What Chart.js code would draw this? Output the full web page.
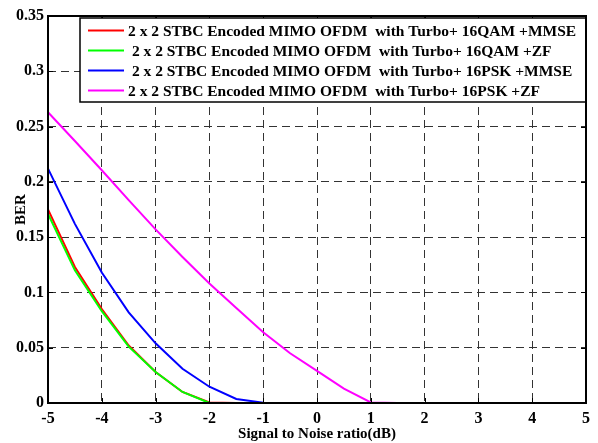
<!DOCTYPE html>
<html lang="en">
<head>
    <meta charset="UTF-8">
    <title>BER vs SNR</title>
    <script src="https://cdn.jsdelivr.net/npm/chart.js"></script>
    <style>
        html, body { margin: 0; padding: 0; background: #fff; }
        #wrap { width: 598px; height: 443px; }
    </style>
</head>
<body>
    <div id="wrap">
        <canvas id="berChart" width="598" height="443"></canvas>
    </div>

    <script>
        // SNR in dB (x axis)
        const snr = [-5, -4.5, -4, -3.5, -3, -2.5, -2, -1.5, -1, -0.5, 0, 0.5, 1, 1.5, 2, 2.5, 3, 3.5, 4, 4.5, 5];

        // BER values
        const qamMmse = [0.175, 0.123, 0.085, 0.052, 0.028, 0.010, 0.0005, 0, 0, 0, 0, 0, 0, 0, 0, 0, 0, 0, 0, 0, 0];
        const qamZf   = [0.171, 0.120, 0.083, 0.051, 0.028, 0.010, 0, 0, 0, 0, 0, 0, 0, 0, 0, 0, 0, 0, 0, 0, 0];
        const pskMmse = [0.212, 0.162, 0.118, 0.082, 0.054, 0.031, 0.0147, 0.0036, 0.0003, 0, 0, 0, 0, 0, 0, 0, 0, 0, 0, 0, 0];
        const pskZf   = [0.263, 0.237, 0.2105, 0.1835, 0.157, 0.132, 0.108, 0.086, 0.064, 0.045, 0.029, 0.013, 0.0005, 0, 0, 0, 0, 0, 0, 0, 0];

        const seriesLabels = [
            '2 x 2 STBC Encoded MIMO OFDM  with Turbo+ 16QAM +MMSE',
            ' 2 x 2 STBC Encoded MIMO OFDM  with Turbo+ 16QAM +ZF',
            ' 2 x 2 STBC Encoded MIMO OFDM  with Turbo+ 16PSK +MMSE',
            '2 x 2 STBC Encoded MIMO OFDM  with Turbo+ 16PSK +ZF'
        ];
        const seriesColors = ['#ff0000', '#00ff00', '#0000ff', '#ff00ff'];
        const seriesValues = [qamMmse, qamZf, pskMmse, pskZf];

        const xTicks = [-5, -4, -3, -2, -1, 0, 1, 2, 3, 4, 5];
        const yTicks = [0, 0.05, 0.1, 0.15, 0.2, 0.25, 0.3, 0.35];

        const serif = '"Liberation Serif", "Times New Roman", serif';

        // frame, inward ticks and the boxed legend, matlab style
        const matlabFrame = {
            id: 'matlabFrame',
            afterDraw(chart) {
                const ctx = chart.ctx;
                const a = chart.chartArea;
                const xs = chart.scales.x, ys = chart.scales.y;
                ctx.save();
                ctx.strokeStyle = '#000';
                ctx.lineWidth = 1;
                xTicks.forEach(v => {
                    const px = Math.round(xs.getPixelForValue(v)) + 0.5;
                    ctx.beginPath();
                    ctx.moveTo(px, a.bottom); ctx.lineTo(px, a.bottom - 5);
                    ctx.moveTo(px, a.top); ctx.lineTo(px, a.top + 5);
                    ctx.stroke();
                });
                yTicks.forEach(v => {
                    const py = Math.round(ys.getPixelForValue(v)) + 0.5;
                    ctx.beginPath();
                    ctx.moveTo(a.left, py); ctx.lineTo(a.left + 5, py);
                    ctx.moveTo(a.right, py); ctx.lineTo(a.right - 5, py);
                    ctx.stroke();
                });

                // legend
                const lx = 80, ly = 18, lw = a.right - 80, lh = 84;
                ctx.fillStyle = '#fff';
                ctx.fillRect(lx, ly, lw, lh);
                ctx.lineWidth = 1.5;
                ctx.strokeRect(lx, ly, lw, lh);
                ctx.font = 'bold 15.5px ' + serif;
                ctx.textBaseline = 'middle';
                ctx.textAlign = 'left';
                chart.data.datasets.forEach((ds, i) => {
                    const y = 30.5 + i * 20;
                    ctx.strokeStyle = ds.borderColor;
                    ctx.lineWidth = 2;
                    ctx.beginPath();
                    ctx.moveTo(88, y); ctx.lineTo(124, y);
                    ctx.stroke();
                    ctx.fillStyle = '#000';
                    ctx.fillText(ds.label, 128, y + 1);
                });

                // axes box
                ctx.strokeStyle = '#000';
                ctx.lineWidth = 2;
                ctx.strokeRect(a.left, a.top, a.right - a.left, a.bottom - a.top);
                ctx.restore();
            }
        };

        const datasets = seriesValues.map((vals, i) => ({
            label: seriesLabels[i],
            data: snr.map((x, j) => ({ x: x, y: vals[j] })),
            borderColor: seriesColors[i],
            backgroundColor: seriesColors[i],
            borderWidth: 2,
            pointRadius: 0,
            tension: 0,
            fill: false,
            order: 4 - i
        }));

        new Chart(document.getElementById('berChart'), {
            type: 'line',
            data: { datasets: datasets },
            options: {
                responsive: false,
                animation: false,
                layout: { padding: { top: 16, right: 12, left: 0, bottom: 0 } },
                plugins: { legend: { display: false }, tooltip: { enabled: false } },
                scales: {
                    x: {
                        type: 'linear',
                        min: -5, max: 5,
                        afterBuildTicks: s => { s.ticks = xTicks.map(v => ({ value: v })); },
                        afterFit: s => { s.height = 40; },
                        grid: { color: '#333', lineWidth: 1, drawTicks: false },
                        border: { display: false, dash: [8, 5] },
                        ticks: {
                            color: '#000', padding: 6,
                            font: { family: serif, size: 16, weight: 'bold' },
                            maxRotation: 0
                        },
                        title: {
                            display: true,
                            text: 'Signal to Noise ratio(dB)',
                            color: '#000',
                            font: { family: serif, size: 15, weight: 'bold' },
                            padding: { top: 0, bottom: 0 }
                        }
                    },
                    y: {
                        min: 0, max: 0.35,
                        afterBuildTicks: s => { s.ticks = yTicks.map(v => ({ value: v })); },
                        afterFit: s => { s.width = 48; },
                        grid: { color: '#333', lineWidth: 1, drawTicks: false },
                        border: { display: false, dash: [8, 5] },
                        ticks: {
                            color: '#000', padding: 4,
                            font: { family: serif, size: 16, weight: 'bold' },
                            callback: v => String(Number(v.toFixed(2)))
                        },
                        title: {
                            display: true,
                            text: 'BER',
                            color: '#000',
                            font: { family: serif, size: 15, weight: 'bold' },
                            padding: { top: 12, bottom: 0 }
                        }
                    }
                }
            },
            plugins: [matlabFrame]
        });
    </script>
</body>
</html>
